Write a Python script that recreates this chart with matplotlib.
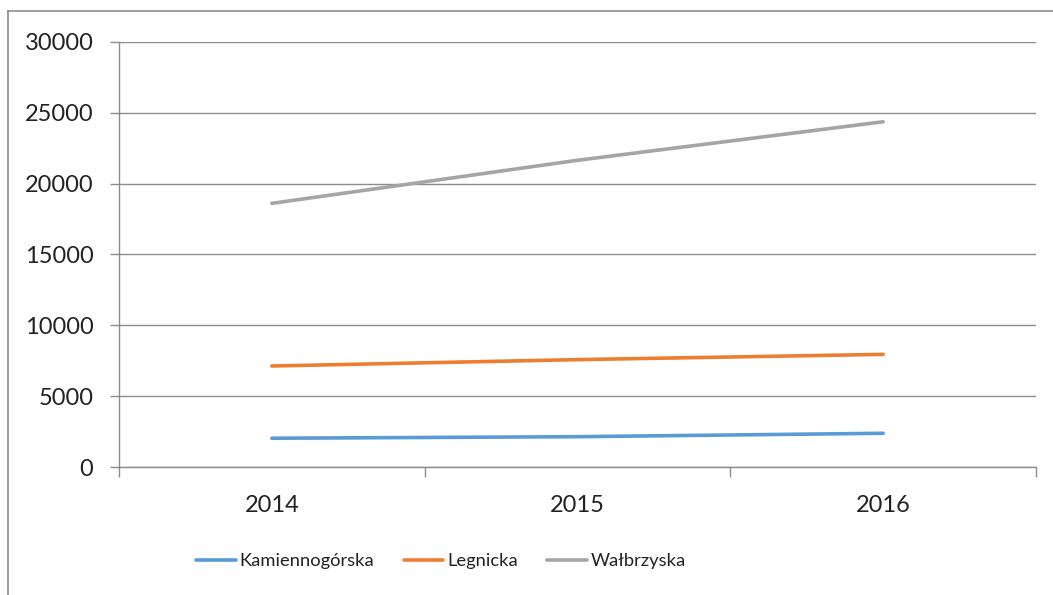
import matplotlib
matplotlib.use("Agg")
import matplotlib.pyplot as plt
from matplotlib.lines import Line2D

years = ["2014", "2015", "2016"]
series_names = ["Kamiennogórska", "Legnicka", "Wałbrzyska"]
kamiennogorska = [2030, 2140, 2380]
legnicka = [7130, 7580, 7950]
walbrzyska = [18610, 21650, 24370]
colors = ["#5B9BD5", "#ED7D31", "#A5A5A5"]
yticks = [0, 5000, 10000, 15000, 20000, 25000, 30000]

plt.rcParams['font.family'] = ['Lato', 'DejaVu Sans']

W, H = 1053, 595
fig = plt.figure(figsize=(W / 100, H / 100), dpi=100)
ax = fig.add_axes([119 / W, 1 - 467 / H, (1036 - 119) / W, (467 - 42) / H])

x = list(range(len(years)))
for vals, name, c in zip([kamiennogorska, legnicka, walbrzyska], series_names, colors):
    ax.plot(x, vals, color=c, lw=2.6, label=name, solid_capstyle='round')

ax.set_xlim(-0.5, len(years) - 0.5)
ax.set_ylim(0, 30000)
ax.set_yticks(yticks)
ax.set_yticklabels([str(v) for v in yticks], fontsize=17, color="#222222")
ax.yaxis.grid(True, color="#8C8C8C", lw=1.0)
ax.set_axisbelow(True)

ax.set_xticks([i - 0.5 for i in range(len(years) + 1)])
ax.set_xticklabels([])
ax.set_xticks(x, minor=True)
ax.set_xticklabels(years, minor=True, fontsize=17, color="#222222")
ax.tick_params(axis='x', which='major', length=7, color="#8C8C8C", width=1)
ax.tick_params(axis='x', which='minor', length=0, pad=20)
ax.tick_params(axis='y', length=6.5, color="#8C8C8C", width=1, pad=12)

for s in ["top", "right"]:
    ax.spines[s].set_visible(False)
for s in ["left", "bottom"]:
    ax.spines[s].set_color("#8C8C8C")
    ax.spines[s].set_linewidth(1.0)

leg = fig.legend(loc="center", bbox_to_anchor=(441 / W, 1 - 561 / H), ncol=3,
                 frameon=False, handlelength=2.15, handletextpad=0.21,
                 columnspacing=1.6, fontsize=13.2)
for t in leg.get_texts():
    t.set_color("#222222")

bx = 7.5 / W
by = 1 - 10.5 / H
fig.add_artist(Line2D([bx, bx], [0, by], transform=fig.transFigure, color="#8C8C8C", lw=1.2))
fig.add_artist(Line2D([bx, 1], [by, by], transform=fig.transFigure, color="#8C8C8C", lw=1.2))

fig.savefig("out.png", dpi=100)
